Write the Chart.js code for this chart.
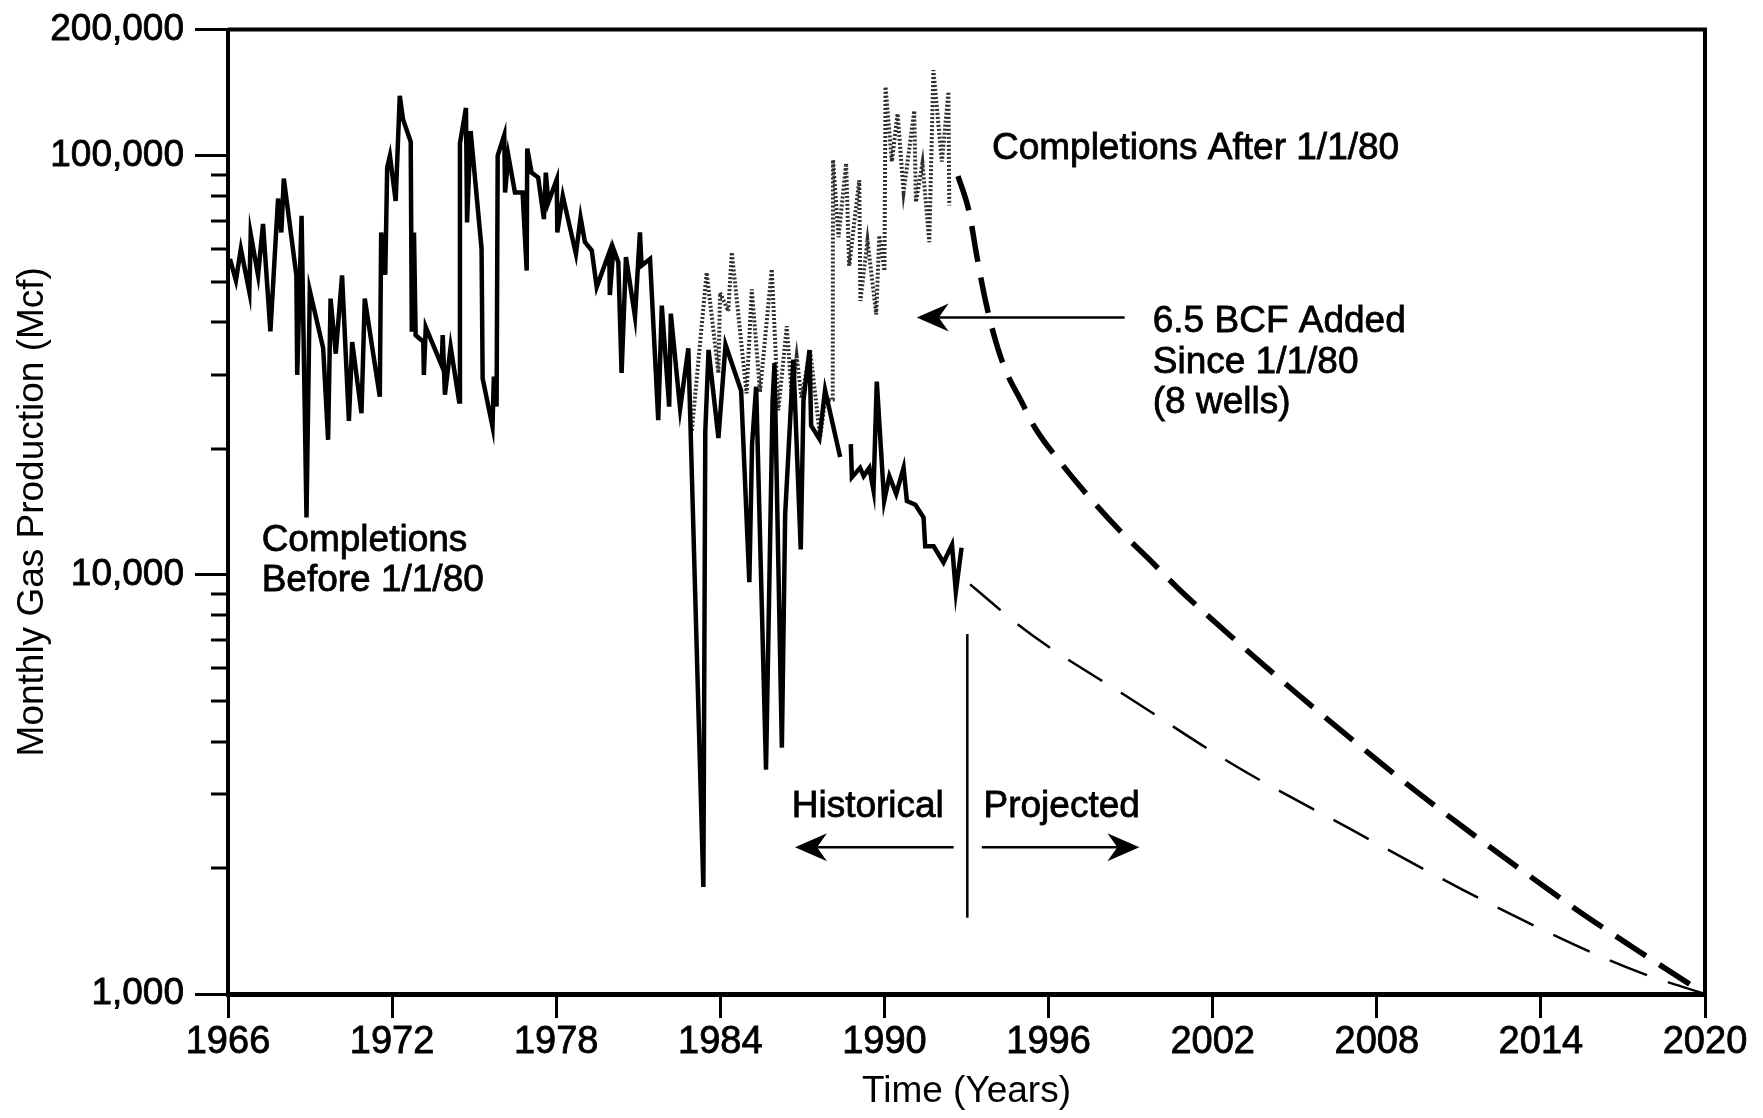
<!DOCTYPE html>
<html>
<head>
<meta charset="utf-8">
<title>Monthly Gas Production</title>
<script src="https://cdn.jsdelivr.net/npm/chart.js@4.4.1/dist/chart.umd.min.js"></script>
<style>
  html, body { margin: 0; padding: 0; background: #fff; }
  #wrap { width: 1763px; height: 1118px; }
</style>
</head>
<body>
<div id="wrap"><canvas id="gasChart" width="1763" height="1118"></canvas></div>
<script>
// Wells completed before 1/1/80 (historical, monthly Mcf)
const beforeYears = [
  1966.07, 1966.29, 1966.47, 1966.78, 1966.83, 1967.10, 1967.28, 1967.55, 1967.83, 1967.95,
  1968.04, 1968.50, 1968.53, 1968.69, 1968.87, 1968.99, 1969.48, 1969.66, 1969.75, 1969.94,
  1970.17, 1970.42, 1970.54, 1970.88, 1971.00, 1971.55, 1971.60, 1971.75, 1971.82, 1971.92,
  1972.13, 1972.28, 1972.40, 1972.68, 1972.72, 1972.80, 1972.86, 1973.14, 1973.16, 1973.23,
  1973.81, 1973.85, 1973.93, 1974.14, 1974.45, 1974.48, 1974.70, 1974.74, 1974.87, 1975.27,
  1975.31, 1975.67, 1975.72, 1975.82, 1975.86, 1976.10, 1976.13, 1976.25, 1976.49, 1976.77,
  1976.92, 1976.94, 1977.10, 1977.34, 1977.55, 1977.62, 1977.71, 1978.02, 1978.04, 1978.24,
  1978.72, 1978.89, 1979.05, 1979.30, 1979.48, 1979.94, 1979.96, 1980.09, 1980.27, 1980.39,
  1980.55, 1980.88, 1981.06, 1981.12, 1981.43, 1981.73, 1981.86, 1982.13, 1982.19, 1982.53,
  1982.83, 1983.38, 1983.45, 1983.57, 1983.93, 1984.19, 1984.76, 1985.06, 1985.16, 1985.31,
  1985.67, 1985.91, 1985.98, 1986.25, 1986.37, 1986.67, 1986.94, 1987.04, 1987.26, 1987.32,
  1987.62, 1987.83, 1988.38, 1988.55, 1988.77, 1988.81, 1989.11, 1989.24, 1989.45, 1989.60,
  1989.72, 1989.99, 1990.18, 1990.43, 1990.70, 1990.82, 1991.13, 1991.43, 1991.49, 1991.80,
  1992.16, 1992.47, 1992.61, 1992.82
];
const beforeValues = [
  56700, 50400, 59900, 47300, 65000, 51800, 68700, 38100, 79000, 65600,
  88200, 51800, 30000, 71900, 13700, 47700, 34700, 21000, 45600, 33700,
  51800, 23300, 35900, 24300, 45600, 26600, 65600, 52000, 93700, 100000,
  78000, 139000, 122000, 108000, 38000, 65600, 37300, 36000, 30000, 39000,
  31600, 37300, 26900, 35000, 25900, 107000, 130000, 69300, 114500, 60000,
  29400, 22600, 29700, 25200, 100000, 112000, 81700, 100000, 81700, 81700,
  53200, 104000, 91100, 88700, 70600, 91100, 77300, 87800, 65600, 80200,
  58300, 71200, 62200, 59400, 48600, 58800, 46500, 60000, 55700, 30300,
  57300, 41300, 65600, 54700, 56700, 23400, 43900, 25200, 42000, 24900,
  34700, 1800, 22000, 34400, 21200, 35400, 27500, 9600, 20500, 28100,
  3430, 25900, 32000, 3870, 13900, 32600, 11500, 26100, 34400, 22700,
  21100, 27600, 19100, null, 20500, 17100, 18000, 17200, 18000, 15900,
  28900, 15000, 17200, 15600, 18000, 15000, 14700, 13700, 11700, 11700,
  10700, 11800, 9120, 11600
];

// All wells incl. completions after 1/1/80 (historical)
const afterYears = [
  1982.96, 1983.50, 1983.93, 1983.99, 1984.29, 1984.42, 1984.96, 1985.15, 1985.45, 1985.88,
  1986.12, 1986.43, 1986.61, 1986.79, 1986.97, 1987.28, 1987.65, 1987.83, 1988.11, 1988.12,
  1988.32, 1988.60, 1988.71, 1989.08, 1989.12, 1989.38, 1989.70, 1989.81, 1990.00, 1990.04,
  1990.27, 1990.48, 1990.70, 1991.09, 1991.15, 1991.39, 1991.64, 1991.79, 1992.10, 1992.34,
  1992.37
];
const afterValues = [
  22100, 52600, 30300, 47100, 42600, 58800, 27100, 48000, 27300, 53600,
  24700, 39200, 26600, 33200, 26400, 34400, 21300, 26100, 26200, 97700,
  63900, 95900, 54600, 87400, 45000, 62700, 41800, 64500, 53100, 146000,
  96800, 126000, 81900, 128000, 77500, 95900, 62200, 160000, 96800, 142000,
  76100
];

// Projections to 2020
const projAfterYears = [
  1992.69, 1993.09, 1993.39, 1993.70, 1994.00, 1994.40, 1995.01, 1995.51, 1996.42, 1997.42,
  1998.63, 1999.64, 2000.75, 2002.90, 2004.96, 2007.01, 2009.07, 2011.13, 2013.18, 2015.24,
  2017.30, 2020.00
];
const projAfterValues = [
  89400, 73700, 57000, 44900, 37400, 31100, 25900, 22400, 18600, 15500,
  12700, 10950, 9270, 6920, 5290, 4090, 3180, 2510, 2000, 1600,
  1300, 1000
];
const projBeforeYears = [
  1993.13, 1994.00, 1994.67, 1995.91, 1998.78, 2002.90, 2007.01, 2011.13, 2015.24, 2017.71,
  2020.00
];
const projBeforeValues = [
  9490, 8500, 7800, 6800, 5170, 3480, 2480, 1775, 1310, 1120,
  1000
];

// Axis ticks
const xTickValues = [1966, 1972, 1978, 1984, 1990, 1996, 2002, 2008, 2014, 2020];
const yTickValues = [1000, 2000, 3000, 4000, 5000, 6000, 7000, 8000, 9000,
  10000, 20000, 30000, 40000, 50000, 60000, 70000, 80000, 90000, 100000, 200000];
const yLabelled = [1000, 10000, 100000, 200000];

// Annotations, placed in data units
const notes = [
  { text: 'Completions', x: 1967.23, y: 12050, align: 'left' },
  { text: 'Before 1/1/80', x: 1967.23, y: 9700, align: 'left' },
  { text: 'Completions After 1/1/80', x: 1993.93, y: 103800, align: 'left' },
  { text: '6.5 BCF Added', x: 1999.81, y: 40100, align: 'left' },
  { text: 'Since 1/1/80', x: 1999.81, y: 32000, align: 'left' },
  { text: '(8 wells)', x: 1999.81, y: 25800, align: 'left' },
  { text: 'Historical', x: 1989.39, y: 2790, align: 'center' },
  { text: 'Projected', x: 1996.48, y: 2790, align: 'center' }
];
const arrows = [
  { x1: 1998.78, y1: 41100, x2: 1991.18, y2: 41100 },
  { x1: 1992.53, y1: 2240, x2: 1986.73, y2: 2240 },
  { x1: 1993.56, y1: 2240, x2: 1999.32, y2: 2240 }
];
const divider = { x: 1993.03, top: 7230, bottom: 1520 };

const FONT = "'Liberation Sans', Arial, Helvetica, sans-serif";
Chart.defaults.font.family = FONT;
Chart.defaults.color = '#000';

const toPoints = (xs, ys) => xs.map((x, i) => ({ x: x, y: ys[i] }));

function drawArrow(c, x1, y1, x2, y2) {
  const ang = Math.atan2(y2 - y1, x2 - x1);
  const len = 32, half = 14, notch = 22;
  c.beginPath();
  c.moveTo(x1, y1);
  c.lineTo(x2 - Math.cos(ang) * notch, y2 - Math.sin(ang) * notch);
  c.stroke();
  c.save();
  c.translate(x2, y2);
  c.rotate(ang);
  c.beginPath();
  c.moveTo(0, 0);
  c.lineTo(-len, -half);
  c.lineTo(-notch, 0);
  c.lineTo(-len, half);
  c.closePath();
  c.fill();
  c.restore();
}

// short minor ticks, top/right frame and the text notes
const decorations = {
  id: 'decorations',
  afterDraw(chart) {
    const c = chart.ctx;
    const area = chart.chartArea;
    const sx = chart.scales.x, sy = chart.scales.y;
    c.save();
    c.strokeStyle = '#000';
    c.fillStyle = '#000';

    c.lineWidth = 3;
    yTickValues.filter(v => !yLabelled.includes(v)).forEach(v => {
      const py = Math.round(sy.getPixelForValue(v));
      c.beginPath();
      c.moveTo(area.left - 17, py);
      c.lineTo(area.left, py);
      c.stroke();
    });

    c.lineWidth = 4;
    c.beginPath();
    c.moveTo(area.left, area.top);
    c.lineTo(area.right, area.top);
    c.lineTo(area.right, area.bottom);
    c.stroke();

    c.lineWidth = 2.5;
    c.beginPath();
    c.moveTo(sx.getPixelForValue(divider.x), sy.getPixelForValue(divider.top));
    c.lineTo(sx.getPixelForValue(divider.x), sy.getPixelForValue(divider.bottom));
    c.stroke();

    arrows.forEach(a => drawArrow(c,
      sx.getPixelForValue(a.x1), sy.getPixelForValue(a.y1),
      sx.getPixelForValue(a.x2), sy.getPixelForValue(a.y2)));

    c.font = '37px ' + FONT;
    c.textBaseline = 'middle';
    c.lineWidth = 0.8;
    notes.forEach(n => {
      const tx = sx.getPixelForValue(n.x), ty = sy.getPixelForValue(n.y);
      c.textAlign = n.align;
      c.fillText(n.text, tx, ty);
      c.strokeText(n.text, tx, ty);
    });
    c.restore();
  }
};

const ctx = document.getElementById('gasChart').getContext('2d');
new Chart(ctx, {
  type: 'line',
  data: {
    datasets: [
      {
        label: 'Completions Before 1/1/80',
        data: toPoints(beforeYears, beforeValues),
        borderColor: '#000',
        borderWidth: 4.5,
        pointRadius: 0,
        tension: 0,
        spanGaps: false
      },
      {
        label: 'Completions After 1/1/80',
        data: toPoints(afterYears, afterValues),
        borderColor: '#2e2e2e',
        borderWidth: 4,
        borderDash: [2, 2],
        pointRadius: 0,
        tension: 0
      },
      {
        label: 'Projected (after 1/1/80)',
        data: toPoints(projAfterYears, projAfterValues),
        borderColor: '#000',
        borderWidth: 5.5,
        borderDash: [36, 16],
        pointRadius: 0,
        cubicInterpolationMode: 'monotone'
      },
      {
        label: 'Projected (before 1/1/80)',
        data: toPoints(projBeforeYears, projBeforeValues),
        borderColor: '#000',
        borderWidth: 2.5,
        borderDash: [40, 22],
        pointRadius: 0,
        cubicInterpolationMode: 'monotone'
      }
    ]
  },
  options: {
    responsive: false,
    animation: false,
    devicePixelRatio: 1,
    layout: { padding: { left: 0, right: 58, top: 25, bottom: 0 } },
    plugins: {
      legend: { display: false },
      tooltip: { enabled: false }
    },
    scales: {
      x: {
        type: 'linear',
        min: 1966,
        max: 2020,
        afterBuildTicks: s => { s.ticks = xTickValues.map(v => ({ value: v })); },
        afterFit: s => { s.height = 124; },
        ticks: {
          callback: v => String(v),
          font: { size: 38 },
          padding: 2,
          maxRotation: 0,
          autoSkip: false,
          textStrokeColor: '#000',
          textStrokeWidth: 0.8
        },
        grid: { drawOnChartArea: false, tickLength: 24, lineWidth: 3, color: '#000' },
        border: { display: true, width: 5, color: '#000' },
        title: {
          display: true,
          text: 'Time (Years)',
          font: { size: 37 },
          padding: { top: 0, bottom: 4 }
        }
      },
      y: {
        type: 'logarithmic',
        min: 1000,
        max: 200000,
        afterBuildTicks: s => { s.ticks = yTickValues.map(v => ({ value: v })); },
        afterFit: s => { s.width = 228; },
        ticks: {
          callback: v => yLabelled.includes(v) ? v.toLocaleString('en-US') : '',
          font: { size: 37, lineHeight: 1 },
          padding: 11,
          autoSkip: false,
          textStrokeColor: '#000',
          textStrokeWidth: 0.8
        },
        grid: {
          drawOnChartArea: false,
          tickLength: 33,
          lineWidth: 3,
          color: c => (c.tick && yLabelled.includes(c.tick.value)) ? '#000' : 'rgba(0,0,0,0)'
        },
        border: { display: true, width: 4, color: '#000' },
        title: {
          display: true,
          text: 'Monthly Gas Production (Mcf)',
          font: { size: 37 },
          padding: { top: 11, bottom: 0 }
        }
      }
    }
  },
  plugins: [decorations]
});
</script>
</body>
</html>
